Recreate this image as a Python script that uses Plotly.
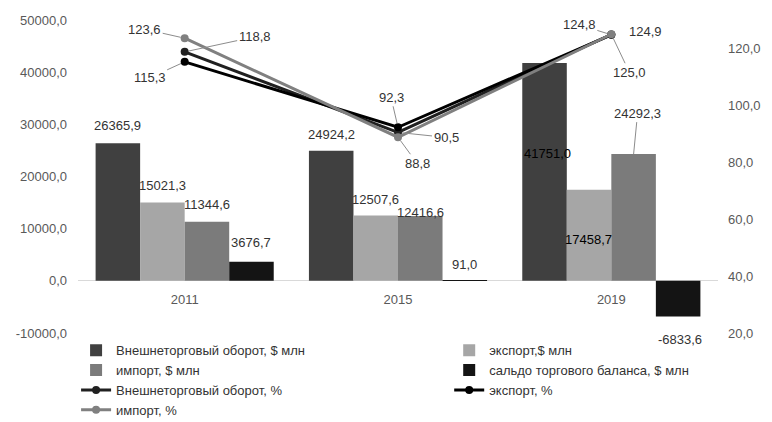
import plotly.graph_objects as go

# ---------------- data ----------------
years = ["2011", "2015", "2019"]

bar_names = ["Внешнеторговый оборот, $ млн", "экспорт,$ млн", "импорт, $ млн",
             "сальдо торгового баланса, $ млн"]
turnover_usd = [26365.9, 24924.2, 41751.0]
export_usd = [15021.3, 12507.6, 17458.7]
import_usd = [11344.6, 12416.6, 24292.3]
balance_usd = [3676.7, 91.0, -6833.6]

line_names = ["Внешнеторговый оборот, %", "экспорт, %", "импорт, %"]
turnover_pct = [118.8, 90.5, 124.9]
export_pct = [115.3, 92.3, 124.8]
import_pct = [123.6, 88.8, 125.0]

left_tickvals = [-10000, 0, 10000, 20000, 30000, 40000, 50000]
left_ticktext = ["-10000,0", "0,0", "10000,0", "20000,0", "30000,0", "40000,0", "50000,0"]
right_tickvals = [20, 40, 60, 80, 100, 120]
right_ticktext = ["20,0", "40,0", "60,0", "80,0", "100,0", "120,0"]

# ---------------- style ----------------
FONT = "Liberation Sans"
TXT = "#333333"
TICK = "#595959"
bar_colors = ["#404040", "#a6a6a6", "#7b7b7b", "#141414"]
line_colors = ["#202020", "#000000", "#808080"]
bar_legends = ["legend", "legend2", "legend", "legend2"]
line_legends = ["legend", "legend2", "legend"]
BARGAP = 0.165
LEFT_RANGE = [-10000, 50000]
RIGHT_RANGE = [20, 130]

# label offsets (pixels): (xshift, yshift) for bars, per series per category
bar_label_shift = [
    [(0, 18), (0, 16), (3, -90)],
    [(0, 17), (0, 16), (-1, -50)],
    [(0, 17), (0, 4), None],
    [(0, 19), (0, 16), (2, -23)],
]
bar_label_color = [
    [TXT, TXT, "#000000"],
    [TXT, TXT, "#000000"],
    [TXT, TXT, TXT],
    [TXT, TXT, TXT],
]
# leader-line labels for bars: (ax, ay)
bar_label_arrow = [
    [None, None, None],
    [None, None, None],
    [None, None, (4, -41)],
    [None, None, None],
]
# line labels: (ax, ay, leader)
line_label_off = [
    [(70, -15, True), (48, 5, True), (34, -3, False)],
    [(-35, 16, True), (-7, -30, True), (-32, -10, True)],
    [(-40, -9, True), (19, 26, True), (18, 38, True)],
]


def fmt(v):
    return f"{v:.1f}".replace(".", ",")


fig = go.Figure()
bar_series = [turnover_usd, export_usd, import_usd, balance_usd]
for name, vals, col, lg in zip(bar_names, bar_series, bar_colors, bar_legends):
    fig.add_trace(go.Bar(x=years, y=vals, name=name, marker_color=col,
                         marker_line_width=0, legend=lg, yaxis="y"))

line_series = [turnover_pct, export_pct, import_pct]
for name, vals, col, lg in zip(line_names, line_series, line_colors, line_legends):
    fig.add_trace(go.Scatter(x=years, y=vals, name=name, mode="lines+markers",
                             line=dict(color=col, width=3),
                             marker=dict(color=col, size=8, symbol="circle"),
                             legend=lg, yaxis="y2"))

annotations = []
nb = len(bar_series)
bw = (1 - BARGAP) / nb
for i, vals in enumerate(bar_series):
    for j, v in enumerate(vals):
        xpos = j + (i - (nb - 1) / 2) * bw
        arr = bar_label_arrow[i][j]
        fnt = dict(family=FONT, size=13, color=bar_label_color[i][j])
        if arr is not None:
            annotations.append(dict(x=xpos, y=v, xref="x", yref="y", text=fmt(v),
                                    showarrow=True, arrowhead=0, arrowwidth=1,
                                    arrowcolor="#8c8c8c", ax=arr[0], ay=arr[1],
                                    font=fnt))
        else:
            sh = bar_label_shift[i][j]
            annotations.append(dict(x=xpos, y=v, xref="x", yref="y", text=fmt(v),
                                    showarrow=False, xshift=sh[0], yshift=sh[1],
                                    font=fnt))

for i, vals in enumerate(line_series):
    for j, v in enumerate(vals):
        ax, ay, lead = line_label_off[i][j]
        fnt = dict(family=FONT, size=13, color=TXT)
        if lead:
            annotations.append(dict(x=j, y=v, xref="x", yref="y2", text=fmt(v),
                                    showarrow=True, arrowhead=0, arrowwidth=1,
                                    arrowcolor="#8c8c8c", ax=ax, ay=ay, standoff=4,
                                    font=fnt))
        else:
            annotations.append(dict(x=j, y=v, xref="x", yref="y2", text=fmt(v),
                                    showarrow=False, xshift=ax, yshift=-ay,
                                    font=fnt))

zero_pos = (0 - LEFT_RANGE[0]) / (LEFT_RANGE[1] - LEFT_RANGE[0])

fig.update_layout(
    width=772, height=422,
    margin=dict(l=78, r=54, t=20, b=89, autoexpand=False),
    paper_bgcolor="white", plot_bgcolor="white",
    barmode="group", bargap=BARGAP, bargroupgap=0,
    font=dict(family=FONT, size=13, color=TXT),
    xaxis=dict(type="category", anchor="free", position=zero_pos, showline=False,
               ticks="", showgrid=False, ticklabelstandoff=9,
               tickfont=dict(family=FONT, size=13, color=TICK)),
    yaxis=dict(range=LEFT_RANGE, tickvals=left_tickvals, ticktext=left_ticktext,
               showgrid=False, zeroline=True, zerolinecolor="#d9d9d9", zerolinewidth=1,
               showline=False, ticks="", ticklabelstandoff=10,
               tickfont=dict(family=FONT, size=13, color=TICK)),
    yaxis2=dict(range=RIGHT_RANGE, tickvals=right_tickvals, ticktext=right_ticktext,
                overlaying="y", side="right", showgrid=False, zeroline=False,
                showline=False, ticks="", ticklabelstandoff=9,
                tickfont=dict(family=FONT, size=13, color=TICK)),
    legend=dict(orientation="v", x=-0.003, xanchor="left", y=-0.007, yanchor="top",
                traceorder="normal", font=dict(family=FONT, size=13, color=TXT),
                bgcolor="rgba(0,0,0,0)"),
    legend2=dict(orientation="v", x=0.58, xanchor="left", y=-0.007, yanchor="top",
                 traceorder="normal", font=dict(family=FONT, size=13, color=TXT),
                 bgcolor="rgba(0,0,0,0)"),
    annotations=annotations,
    showlegend=True,
)

fig.write_html(
    "out.html",
    config={"displayModeBar": False},
    post_script="document.body.style.margin='0';document.body.style.overflow='hidden';",
)
